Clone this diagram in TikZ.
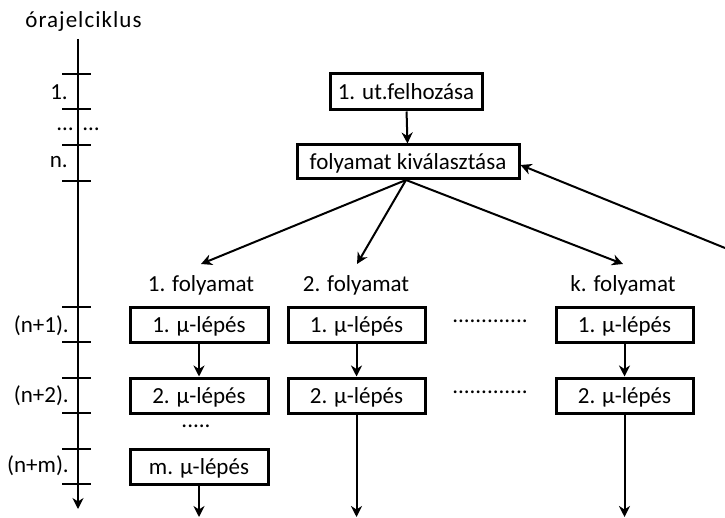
\documentclass[tikz,border=0pt]{standalone}
\usepackage{fontspec}
\setmainfont{Carlito}
\usetikzlibrary{arrows.meta}
\begin{document}
\begin{tikzpicture}[x=1pt,y=-1pt,
  every node/.style={font=\fontsize{23}{27}\selectfont, inner sep=0pt},
  stepbox/.style={draw, line width=3pt, minimum height=35pt, text depth=0pt},
  flow/.style={line width=2pt, -{Stealth[length=11pt,width=11pt,inset=3.5pt]}},
  axisline/.style={line width=1.4pt},
  lbl/.style={anchor=east}]
\useasboundingbox (0,0) rectangle (725,518);

% clock-cycle axis
\node[font=\fontsize{23}{27}\selectfont\addfontfeature{LetterSpace=4.5}] (axt) at (83.5,21) {órajelciklus};
\coordinate (ax0) at (78,39);
\coordinate (ax1) at (78,509);
\draw[axisline, -{Stealth[length=11pt,width=11pt,inset=3.5pt]}] (ax0) -- (ax1);
\foreach \y in {74,109,145,181,307,342,378,413,449,484}
  \draw[axisline] (62,\y) -- (91,\y);
\node[lbl] (c1) at (68,92) {1.};
\node (cd1) at (65,129) {…};
\node (cd2) at (91,129) {…};
\node[lbl] (cn) at (68,162) {n.};
\node[lbl] (cn1) at (69,326) {(n+1).};
\node[lbl] (cn2) at (69,396) {(n+2).};
\node[lbl] (cnm) at (69,466) {(n+m).};

% fetch and process selection
\node[stepbox, minimum width=152pt, minimum height=36pt] (fetch) at (406,92) {1. ut.felhozása};
\node[stepbox, minimum width=222pt, minimum height=34pt] (sel) at (408,162) {folyamat kiválasztása};
\draw[flow] (fetch) -- (sel);

% process columns
\node (p1) at (201,285) {1. folyamat};
\node (p2) at (356,285) {2. folyamat};
\node (pk) at (623,285) {k. folyamat};

\coordinate (fan) at (406,180);
\coordinate (t1) at (201,264);
\coordinate (t2) at (357,264);
\coordinate (tk) at (623,264);
\draw[flow] (fan) -- (t1);
\draw[flow] (fan) -- (t2);
\draw[flow] (fan) -- (tk);

\coordinate (back) at (725,248);
\draw[flow] (back) -- ([yshift=-3pt]sel.east);

% column 1
\node[stepbox, minimum width=138pt] (a1) at (199,325) {1. μ-lépés};
\node[stepbox, minimum width=138pt] (a2) at (199,395.5) {2. μ-lépés};
\node (adots) at (196,426) {.....};
\node[stepbox, minimum width=138pt] (am) at (199,467) {m. μ-lépés};
\coordinate (aend) at (199,517);
\draw[flow] (a1) -- (a2);
\draw[flow] (am) -- (aend);

% column 2
\node[stepbox, minimum width=137pt] (b1) at (356.5,325) {1. μ-lépés};
\node[stepbox, minimum width=137pt] (b2) at (356.5,395.5) {2. μ-lépés};
\coordinate (bend) at (356.5,517);
\draw[flow] (b1) -- (b2);
\draw[flow] (b2) -- (bend);

% gaps between columns
\node (g1) at (490,321) {.............};
\node (g2) at (490,392) {.............};

% column k
\node[stepbox, minimum width=137pt] (k1) at (624.5,325) {1. μ-lépés};
\node[stepbox, minimum width=137pt] (k2) at (624.5,395.5) {2. μ-lépés};
\coordinate (kend) at (624.5,517);
\draw[flow] (k1) -- (k2);
\draw[flow] (k2) -- (kend);
\end{tikzpicture}
\end{document}
